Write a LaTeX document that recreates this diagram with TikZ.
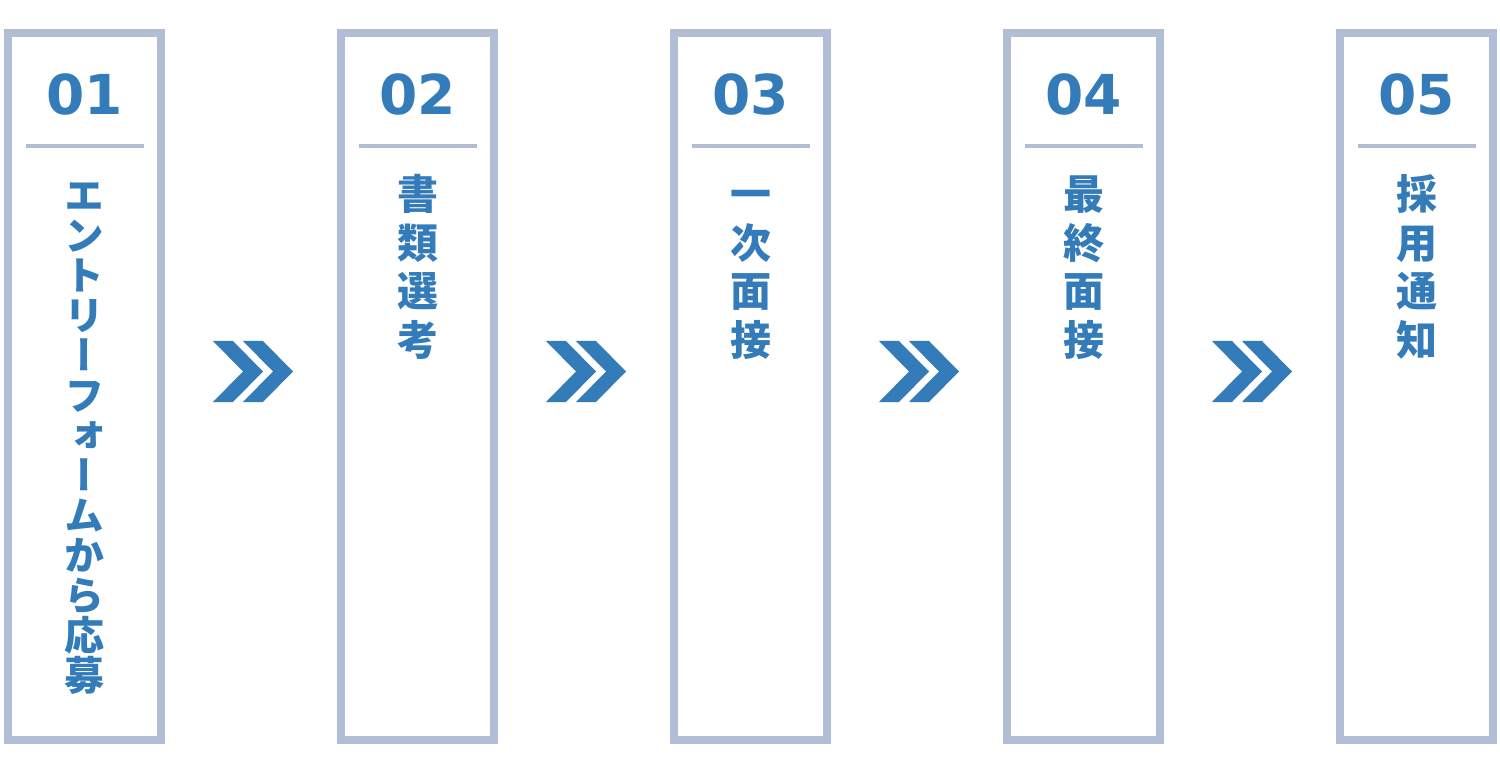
\documentclass[tikz,border=0pt]{standalone}
\usepackage{fontspec}
\newfontfamily\jpfont[RawFeature=+vert]{Noto Sans CJK JP}
\newfontfamily\numfont{DejaVu Sans}
\definecolor{framecol}{HTML}{B2BDD6}
\definecolor{inkcol}{HTML}{347BB9}
\tikzset{
  stepframe/.style={draw=framecol, line width=8pt, inner sep=0pt, minimum width=153pt, minimum height=707pt},
  stepnum/.style={anchor=base, inner sep=0pt, text=inkcol, font=\numfont\bfseries\fontsize{55}{55}\selectfont},
  steprule/.style={draw=framecol, line width=3.5pt},
  jch/.style={inner sep=0pt, text=inkcol, text height=36.1pt, text depth=4.9pt, font=\jpfont\bfseries\fontsize{41}{41}\selectfont},
  jchs/.style={inner sep=0pt, text=inkcol, text height=35.2pt, text depth=4.8pt, font=\jpfont\bfseries\fontsize{40}{40}\selectfont},
  chev/.style={fill=inkcol}
}
\begin{document}
\begin{tikzpicture}[x=1pt,y=-1pt]
\useasboundingbox (0,0) rectangle (1500,767);
\foreach \k/\n in {1/01,2/02,3/03,4/04,5/05}{
  \pgfmathsetmacro\cx{84.5+333*(\k-1)}
  \node[stepframe] (box\k) at (\cx,386.5) {};
  \node[stepnum] (num\k) at (\cx,115) {\n};
  \draw[steprule] (\cx-59,146) -- (\cx+59,146);
}
% vertical labels
\foreach \c [count=\i] in {エ,ン,ト,リ,ー,フ,ォ,ー,ム,か,ら,応,募}
  \node[jchs] (a\i) at (84.5,{195+(\i-1)*40}) {\c};
\foreach \c [count=\i] in {書,類,選,考}
  \node[jch] (b\i) at (417.5,{194+(\i-1)*48.5}) {\c};
\foreach \c [count=\i] in {一,次,面,接}
  \node[jch] (c\i) at (750.5,{194+(\i-1)*48.5}) {\c};
\foreach \c [count=\i] in {最,終,面,接}
  \node[jch] (d\i) at (1083.5,{194+(\i-1)*48.5}) {\c};
\foreach \c [count=\i] in {採,用,通,知}
  \node[jch] (e\i) at (1416.5,{194+(\i-1)*48.5}) {\c};
% chevrons
\foreach \k in {1,2,3,4}{
  \foreach \s in {0,30}{
    \pgfmathsetmacro\xo{213+333*(\k-1)+\s}
    \fill[chev] (\xo,341) -- (\xo+20,341) -- (\xo+50,371.5) -- (\xo+20,402) -- (\xo,402) -- (\xo+30,371.5) -- cycle;
  }
}
\end{tikzpicture}
\end{document}
